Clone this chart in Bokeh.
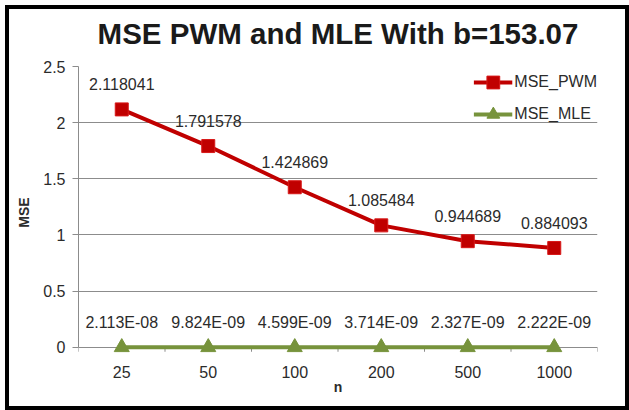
from bokeh.plotting import figure
from bokeh.models import ColumnDataSource, FixedTicker, NumeralTickFormatter, Range1d, FactorRange
from bokeh.core.properties import value
from bokeh.embed import file_html
from bokeh.resources import INLINE

# ---- data ----
n_values = ["25", "50", "100", "200", "500", "1000"]
mse_pwm = [2.118041, 1.791578, 1.424869, 1.085484, 0.944689, 0.884093]
mse_mle = [2.113e-08, 9.824e-09, 4.599e-09, 3.714e-09, 2.327e-09, 2.222e-09]
pwm_labels = ["2.118041", "1.791578", "1.424869", "1.085484", "0.944689", "0.884093"]
mle_labels = ["2.113E-08", "9.824E-09", "4.599E-09", "3.714E-09", "2.327E-09", "2.222E-09"]
y_ticks = [0, 0.5, 1, 1.5, 2, 2.5]
title_text = "MSE PWM and MLE With b=153.07"

FONT = "Liberation Sans"
RED = "#C00000"
RED_EDGE = "#D81818"
GREEN = "#77933C"
GRID = "#8C8C8C"
TXT = "#2B2B2B"

src = ColumnDataSource(dict(n=n_values, pwm=mse_pwm, mle=mse_mle,
                            pwm_lab=pwm_labels, mle_lab=mle_labels))

p = figure(width=624, height=414, x_range=FactorRange(*n_values), y_range=Range1d(-0.1, 2.5),
           output_backend="svg", toolbar_location=None,
           min_border_left=73, min_border_right=32, min_border_top=70, min_border_bottom=52)
p.border_fill_alpha = 0
# outer black frame of the chart, drawn behind the (transparent) canvas border area
p.styles = {
    "margin-left": "5px",
    "margin-top": "-4px",
    "background": "white",
    "box-shadow": ("inset 0 9px 0 0 white, inset 0 13px 0 0 black, "
                   "inset 4px 0 0 0 black, inset -4px 0 0 0 black, inset 0 -4px 0 0 black"),
}

p.title.text = title_text
p.title.align = "center"
p.title.vertical_align = "bottom"
p.title.standoff = 33
p.title.text_font = FONT
p.title.text_font_size = "29.5px"
p.title.text_font_style = "bold"
p.title.text_color = "#1A1A1A"

p.outline_line_color = None
p.xgrid.grid_line_color = None
p.ygrid.grid_line_color = GRID
p.ygrid.grid_line_width = 1

# y axis
p.yaxis.ticker = FixedTicker(ticks=y_ticks)
p.yaxis.formatter = NumeralTickFormatter(format="0.[0]")
p.yaxis.bounds = (0, 2.5)
p.yaxis.axis_line_color = GRID
p.yaxis.major_tick_line_color = GRID
p.yaxis.major_tick_out = 6
p.yaxis.major_tick_in = 0
p.yaxis.minor_tick_line_color = None
p.yaxis.major_label_text_font = FONT
p.yaxis.major_label_text_font_size = "16px"
p.yaxis.major_label_text_color = TXT
p.yaxis.major_label_standoff = 7
p.yaxis.axis_label = "MSE"
p.yaxis.axis_label_text_font = FONT
p.yaxis.axis_label_text_font_size = "14px"
p.yaxis.axis_label_text_font_style = "bold"
p.yaxis.axis_label_text_color = TXT
p.yaxis.axis_label_standoff = 8

# x axis
p.xaxis.axis_line_color = None
p.xaxis.major_tick_line_color = None
p.xaxis.major_label_text_font = FONT
p.xaxis.major_label_text_font_size = "16px"
p.xaxis.major_label_text_color = TXT
p.xaxis.major_label_standoff = 1
p.xaxis.axis_label = "n"
p.xaxis.axis_label_text_font = FONT
p.xaxis.axis_label_text_font_size = "14px"
p.xaxis.axis_label_text_font_style = "bold"
p.xaxis.axis_label_text_color = TXT
p.xaxis.axis_label_standoff = -2

# category boundary ticks on the x axis line
bx = [(c, -0.5) for c in n_values] + [(n_values[-1], 0.5)]
p.segment(x0=bx, x1=bx, y0=[0] * len(bx), y1=[-0.04] * len(bx), line_color=GRID, line_width=1)

# series
p.line("n", "pwm", source=src, line_color=RED, line_width=4, legend_label="MSE_PWM")
p.scatter("n", "pwm", source=src, marker="square", size=13, fill_color=RED,
          line_color=RED_EDGE, line_width=1, legend_label="MSE_PWM")
p.line("n", "mle", source=src, line_color=GREEN, line_width=4, legend_label="MSE_MLE")
p.scatter("n", "mle", source=src, marker="triangle", size=15, fill_color=GREEN,
          line_color=GREEN, legend_label="MSE_MLE")

# data labels
p.text("n", "pwm", text="pwm_lab", source=src, y_offset=-25, text_align="center",
       text_baseline="middle", text_font=value(FONT), text_font_size="16px", text_color=TXT)
p.text("n", "mle", text="mle_lab", source=src, y_offset=-25, text_align="center",
       text_baseline="middle", text_font=value(FONT), text_font_size="16px", text_color=TXT)

lg = p.legend[0]
lg.location = "top_right"
lg.margin = 0
lg.padding = 8
lg.spacing = 0
lg.glyph_width = 39
lg.glyph_height = 32
lg.label_height = 32
lg.label_standoff = 2
lg.label_text_font = FONT
lg.label_text_font_size = "16px"
lg.label_text_color = TXT
lg.background_fill_alpha = 0
lg.border_line_color = None

open("out.html", "w").write(file_html(p, INLINE))
